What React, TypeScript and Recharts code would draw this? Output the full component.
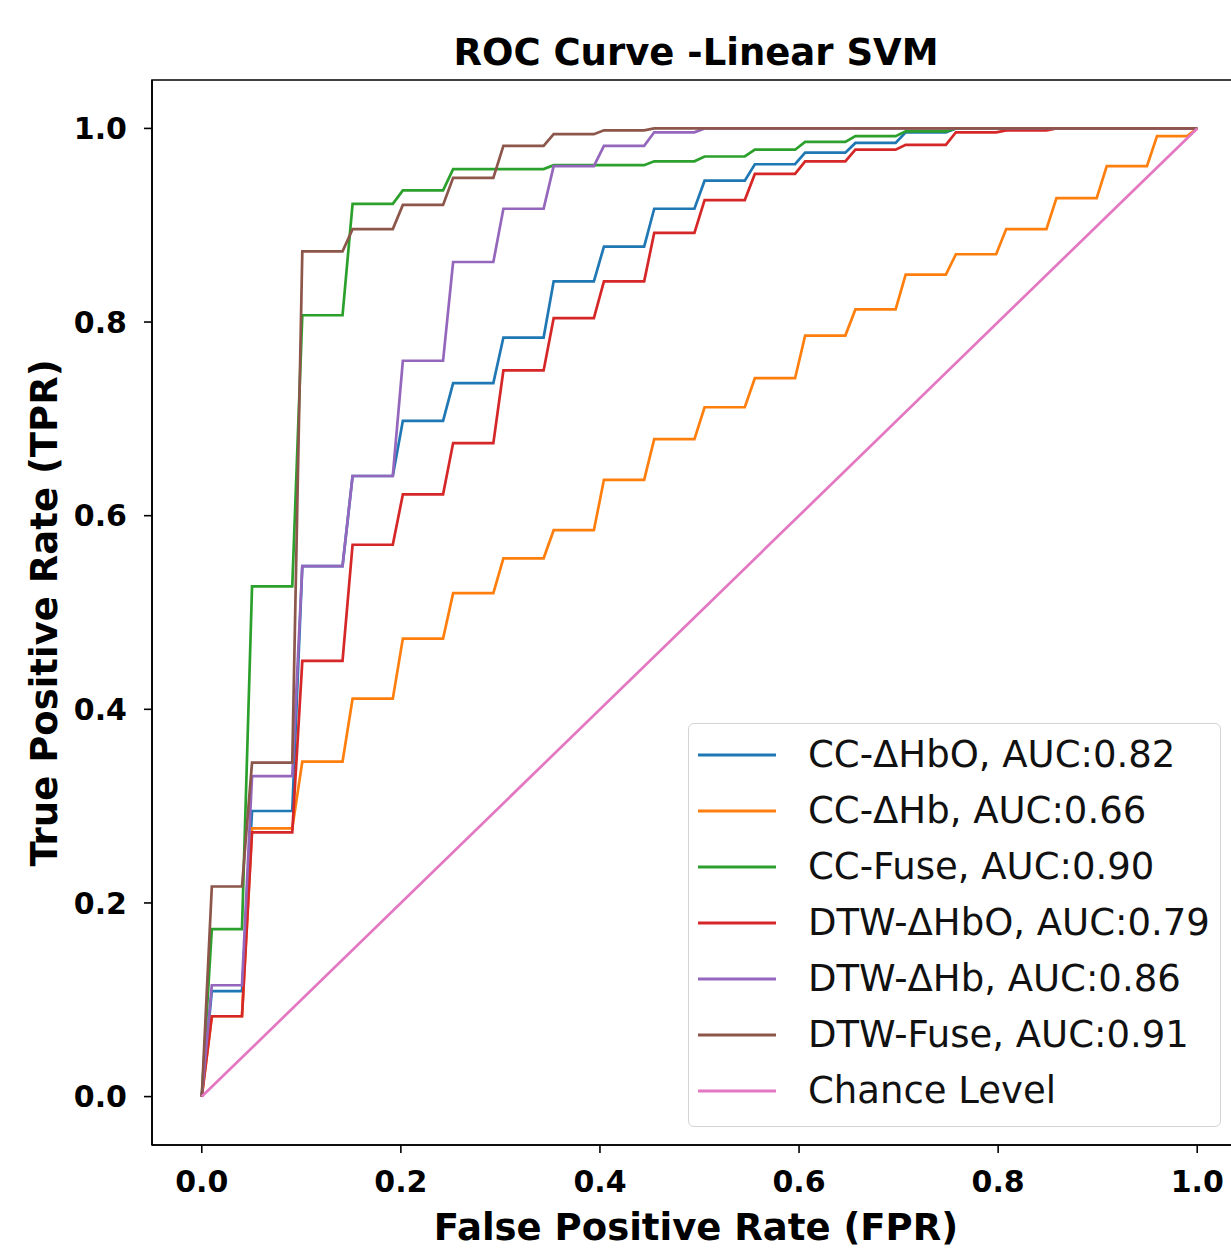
import React from 'react';
import { LineChart, Line, XAxis, YAxis, ReferenceArea, Legend } from 'recharts';

// Shared step edges (FPR): start and end of each flat step
const stepStart = [0.0101, 0.0505, 0.101, 0.1515, 0.202, 0.2525, 0.303, 0.3535, 0.404, 0.4545, 0.5051, 0.5556, 0.6061, 0.6566, 0.7071, 0.7576, 0.8081, 0.8586, 0.9091, 0.9596];
const stepEnd = [0.0404, 0.0909, 0.1414, 0.1919, 0.2424, 0.2929, 0.3434, 0.3939, 0.4444, 0.4949, 0.5455, 0.596, 0.6465, 0.697, 0.7475, 0.798, 0.8485, 0.899, 0.9495, 0.9899];

// TPR level of each step, per series
const ccHbO = [0.109, 0.295, 0.548, 0.641, 0.698, 0.737, 0.784, 0.842, 0.878, 0.917, 0.946, 0.963, 0.975, 0.985, 0.996, 1, 1, 1, 1, 1];
const ccHb = [0.083, 0.277, 0.346, 0.411, 0.473, 0.52, 0.556, 0.585, 0.637, 0.679, 0.712, 0.742, 0.786, 0.813, 0.849, 0.87, 0.896, 0.928, 0.961, 0.992];
const ccFuse = [0.173, 0.527, 0.807, 0.922, 0.936, 0.958, 0.958, 0.962, 0.962, 0.966, 0.971, 0.978, 0.986, 0.992, 0.997, 1, 1, 1, 1, 1];
const dtwHbO = [0.083, 0.273, 0.45, 0.57, 0.622, 0.675, 0.75, 0.804, 0.842, 0.892, 0.926, 0.953, 0.966, 0.978, 0.983, 0.996, 0.998, 1, 1, 1];
const dtwHb = [0.115, 0.331, 0.548, 0.641, 0.76, 0.862, 0.917, 0.961, 0.982, 0.996, 1, 1, 1, 1, 1, 1, 1, 1, 1, 1];
const dtwFuse = [0.217, 0.345, 0.873, 0.896, 0.921, 0.949, 0.982, 0.994, 0.998, 1, 1, 1, 1, 1, 1, 1, 1, 1, 1, 1];

const chanceFpr = [0, 1];
const chanceTpr = [0, 1];

const seriesNames = [
  'CC-ΔHbO, AUC:0.82',
  'CC-ΔHb, AUC:0.66',
  'CC-Fuse, AUC:0.90',
  'DTW-ΔHbO, AUC:0.79',
  'DTW-ΔHb, AUC:0.86',
  'DTW-Fuse, AUC:0.91',
  'Chance Level',
];
const seriesColors = ['#1f77b4', '#ff7f0e', '#2ca02c', '#d62728', '#9467bd', '#8c564b', '#e377c2'];
const tickValues = [0, 0.2, 0.4, 0.6, 0.8, 1.0];

const buildRoc = (levels: number[]) => {
  const pts: { x: number; y: number }[] = [{ x: 0, y: 0 }];
  levels.forEach((v, i) => {
    pts.push({ x: stepStart[i], y: v });
    pts.push({ x: stepEnd[i], y: v });
  });
  pts.push({ x: 1, y: 1 });
  return pts;
};

const seriesData = [
  buildRoc(ccHbO),
  buildRoc(ccHb),
  buildRoc(ccFuse),
  buildRoc(dtwHbO),
  buildRoc(dtwHb),
  buildRoc(dtwFuse),
  chanceFpr.map((x, i) => ({ x, y: chanceTpr[i] })),
];

const FONT = '"DejaVu Sans", sans-serif';

const LegendBox = () => (
  <div
    style={{
      width: 533,
      boxSizing: 'border-box',
      border: '1.5px solid #d4d4d4',
      borderRadius: 6,
      background: 'rgba(255,255,255,0.85)',
      paddingTop: 3,
      paddingBottom: 7,
      fontFamily: FONT,
      fontSize: 37,
      color: '#111',
    }}
  >
    {seriesNames.map((name, i) => (
      <div key={name} style={{ height: 56, lineHeight: '56px', display: 'flex', alignItems: 'center', whiteSpace: 'nowrap' }}>
        <svg width={119} height={56} style={{ flex: 'none' }}>
          <line x1={9} x2={87} y1={28} y2={28} stroke={seriesColors[i]} strokeWidth={3} />
        </svg>
        <span>{name}</span>
      </div>
    ))}
  </div>
);

export default function App() {
  const axisStyle = { stroke: '#000', strokeWidth: 1.6 };
  const tickStyle = { fontSize: 30, fontWeight: 'bold' as const, fill: '#000', fontFamily: FONT };
  return (
    <div style={{ position: 'absolute', left: 0, top: 0, width: 1231, height: 1254, overflow: 'hidden', background: '#fff' }}>
      <LineChart width={1250} height={1254} margin={{ top: 80, right: 3, bottom: 49, left: 0 }}>
        <XAxis
          type="number"
          dataKey="x"
          domain={[-0.05, 1.05]}
          allowDataOverflow
          ticks={tickValues}
          tickFormatter={(v: number) => v.toFixed(1)}
          height={60}
          tickSize={8}
          tickMargin={18}
          axisLine={axisStyle}
          tickLine={axisStyle}
          tick={tickStyle}
        />
        <YAxis
          type="number"
          dataKey="y"
          domain={[-0.05, 1.05]}
          allowDataOverflow
          ticks={tickValues}
          tickFormatter={(v: number) => v.toFixed(1)}
          width={152}
          tickSize={8}
          tickMargin={17}
          axisLine={axisStyle}
          tickLine={axisStyle}
          tick={tickStyle}
        />
        <ReferenceArea x1={-0.05} x2={1.05} y1={-0.05} y2={1.05} fill="none" stroke="#000" strokeWidth={1.6} />
        {seriesData.map((d, i) => (
          <Line
            key={seriesNames[i]}
            data={d}
            dataKey="y"
            name={seriesNames[i]}
            type="linear"
            stroke={seriesColors[i]}
            strokeWidth={2.7}
            dot={false}
            activeDot={false}
            isAnimationActive={false}
          />
        ))}
        <Legend
          layout="horizontal"
          verticalAlign="middle"
          align="center"
          content={() => <LegendBox />}
          wrapperStyle={{ position: 'absolute', left: 688, top: 723, width: 533, height: 402 }}
        />
      </LineChart>
      <svg
        width={1231}
        height={1254}
        style={{ position: 'absolute', left: 0, top: 0, pointerEvents: 'none' }}
      >
        <text x={696} y={65} textAnchor="middle" fontFamily={FONT} fontWeight="bold" fontSize={37} fill="#000">
          ROC Curve -Linear SVM
        </text>
        <text x={696} y={1240} textAnchor="middle" fontFamily={FONT} fontWeight="bold" fontSize={37} fill="#000">
          False Positive Rate (FPR)
        </text>
        <text
          x={0}
          y={0}
          transform="translate(57,613) rotate(-90)"
          textAnchor="middle"
          fontFamily={FONT}
          fontWeight="bold"
          fontSize={37}
          fill="#000"
        >
          True Positive Rate (TPR)
        </text>
      </svg>
    </div>
  );
}
